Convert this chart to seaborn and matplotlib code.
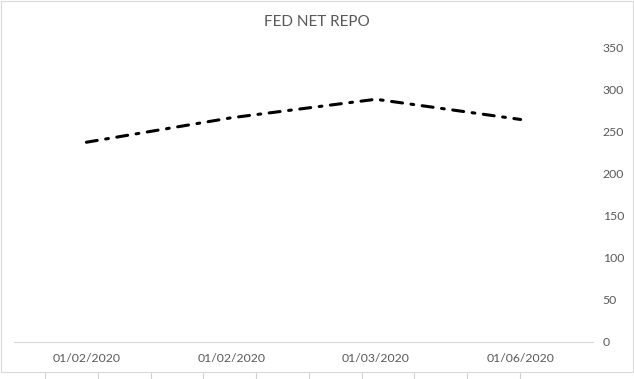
import matplotlib
matplotlib.use("Agg")
import matplotlib.pyplot as plt
import numpy as np
import pandas as pd
import seaborn as sns
from matplotlib.lines import Line2D
from matplotlib.patches import Rectangle

dates = ["01/02/2020", "01/02/2020", "01/03/2020", "01/06/2020"]
repo = [237, 266, 288, 264]
yTicks = [0, 50, 100, 150, 200, 250, 300, 350]

sns.set_style("white")
plt.rcParams['font.family'] = ['Lato', 'DejaVu Sans']

fig = plt.figure(figsize=(6.34, 3.79), dpi=100)
ax = fig.add_axes([14 / 634, 1 - 342 / 379, (593 - 14) / 634, (342 - 47) / 379])

df = pd.DataFrame({"pos": np.arange(len(dates)), "repo": repo})
sns.lineplot(data=df, x="pos", y="repo", ax=ax, color="black", linewidth=2.2)
ax.lines[0].set_dashes((3.6, 2.8, 0.9, 2.8))
ax.lines[0].set_dash_capstyle("round")

ax.set_xlim(-0.5, len(dates) - 0.5)
ax.set_ylim(0, 350)
ax.set_xticks(np.arange(len(dates)))
ax.set_xticklabels(dates)
ax.set_yticks(yTicks)
ax.yaxis.tick_right()
ax.tick_params(axis="both", length=0, labelsize=8.8, colors="#595959", pad=8)
ax.tick_params(axis="y", pad=7)
ax.set_xlabel("")
ax.set_ylabel("")
for s in ["top", "left", "right"]:
    ax.spines[s].set_visible(False)
ax.spines["bottom"].set_color("#d9d9d9")
ax.spines["bottom"].set_linewidth(0.8)
ax.grid(False)

fig.text(317 / 634, 1 - 22 / 379, "FED NET REPO", ha="center", va="center",
         fontsize=11, color="#595959")

# chart frame and spreadsheet cell lines peeking below
fig.patches.append(Rectangle((0.5 / 634, 1 - 372 / 379), 632.5 / 634, 371.5 / 379,
                             transform=fig.transFigure, fill=False,
                             edgecolor="#d9d9d9", linewidth=0.8))
for cx in [45, 98, 151, 203, 256, 309, 362, 414, 467, 520]:
    fig.lines.append(Line2D([cx / 634, cx / 634], [0, 1 - 373 / 379],
                            transform=fig.transFigure, color="#d0d0d0", linewidth=0.8))

fig.savefig("out.png", dpi=100)
